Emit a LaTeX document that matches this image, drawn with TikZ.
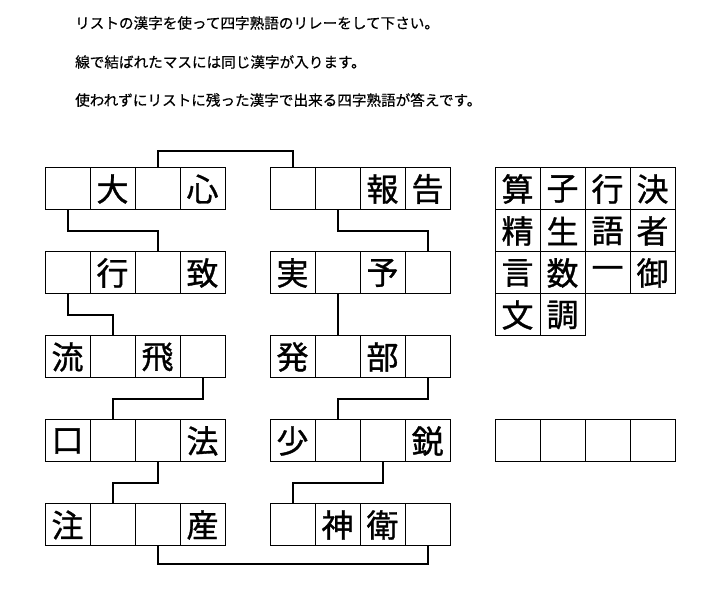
\documentclass[tikz,border=0pt]{standalone}
\usepackage{fontspec}
\usepackage{tikz}
\newfontfamily\jpfont[FakeBold=1]{Noto Sans CJK JP}
\newfontfamily\jptext[FakeBold=0.5]{Noto Sans CJK JP}
\def\cellw{45pt}
\def\cellh{42pt}

\begin{document}
\begin{tikzpicture}[x=1pt,y=1pt]
                \tikzstyle{cell}=[draw,line width=1pt,minimum width=\cellw,minimum height=\cellh,inner sep=0pt,outer sep=0pt,font=\jpfont\fontsize{32}{32}\selectfont]
                \tikzstyle{link}=[draw,line width=2pt]
                \tikzstyle{annot}=[anchor=west,inner sep=0pt,font=\jptext\fontsize{14.6}{14.6}\selectfont]

                \useasboundingbox (0,0) rectangle (721,589);

                % Write the instructions
                \node[annot] (t1) at (75,566) {リストの漢字を使って四字熟語のリレーをして下さい。};
                \node[annot] (t2) at (75,527) {線で結ばれたマスには同じ漢字が入ります。};
                \node[annot] (t3) at (75,489) {使われずにリストに残った漢字で出来る四字熟語が答えです。};

                % Draw the left column of words
                \foreach \t [count=\c] in {{},大,{},心}
                    \node[cell] (L-1-\c) at ({22.5+45*\c},400) {\t};
                \foreach \t [count=\c] in {{},行,{},致}
                    \node[cell] (L-2-\c) at ({22.5+45*\c},316) {\t};
                \foreach \t [count=\c] in {流,{},飛,{}}
                    \node[cell] (L-3-\c) at ({22.5+45*\c},232) {\t};
                \foreach \t [count=\c] in {口,{},{},法}
                    \node[cell] (L-4-\c) at ({22.5+45*\c},148) {\t};
                \foreach \t [count=\c] in {注,{},{},産}
                    \node[cell] (L-5-\c) at ({22.5+45*\c},64) {\t};

                % Draw the middle column of words
                \foreach \t [count=\c] in {{},{},報,告}
                    \node[cell] (M-1-\c) at ({247.5+45*\c},400) {\t};
                \foreach \t [count=\c] in {実,{},予,{}}
                    \node[cell] (M-2-\c) at ({247.5+45*\c},316) {\t};
                \foreach \t [count=\c] in {発,{},部,{}}
                    \node[cell] (M-3-\c) at ({247.5+45*\c},232) {\t};
                \foreach \t [count=\c] in {少,{},{},鋭}
                    \node[cell] (M-4-\c) at ({247.5+45*\c},148) {\t};
                \foreach \t [count=\c] in {{},神,衛,{}}
                    \node[cell] (M-5-\c) at ({247.5+45*\c},64) {\t};

                % Draw the list of kanji
                \foreach \t [count=\c] in {算,子,行,決}
                    \node[cell] (S-1-\c) at ({472.5+45*\c},400) {\t};
                \foreach \t [count=\c] in {精,生,語,者}
                    \node[cell] (S-2-\c) at ({472.5+45*\c},358) {\t};
                \foreach \t [count=\c] in {言,数,一,御}
                    \node[cell] (S-3-\c) at ({472.5+45*\c},316) {\t};
                \foreach \t [count=\c] in {文,調}
                    \node[cell] (S-4-\c) at ({472.5+45*\c},274) {\t};

                % Draw the answer boxes
                \foreach \c in {1,...,4}
                    \node[cell] (A-\c) at ({472.5+45*\c},148) {};

                % Connect the boxes that hold the same kanji
                \path[link] (L-1-3.north) -- ++(0,17) -| (M-1-1.north);
                \path[link] (L-1-1.south) -- ++(0,-21) -| (L-2-3.north);
                \path[link] (M-1-2.south) -- ++(0,-21) -| (M-2-4.north);
                \path[link] (L-2-1.south) -- ++(0,-21) -| (L-3-2.north);
                \path[link] (M-2-2.south) -- (M-3-2.north);
                \path[link] (L-3-4.south) -- ++(0,-21) -| (L-4-2.north);
                \path[link] (M-3-4.south) -- ++(0,-21) -| (M-4-2.north);
                \path[link] (L-4-3.south) -- ++(0,-21) -| (L-5-2.north);
                \path[link] (M-4-3.south) -- ++(0,-21) -| (M-5-1.north);
                \path[link] (L-5-3.south) -- ++(0,-18) -| (M-5-4.south);
            \end{tikzpicture}
\end{document}
